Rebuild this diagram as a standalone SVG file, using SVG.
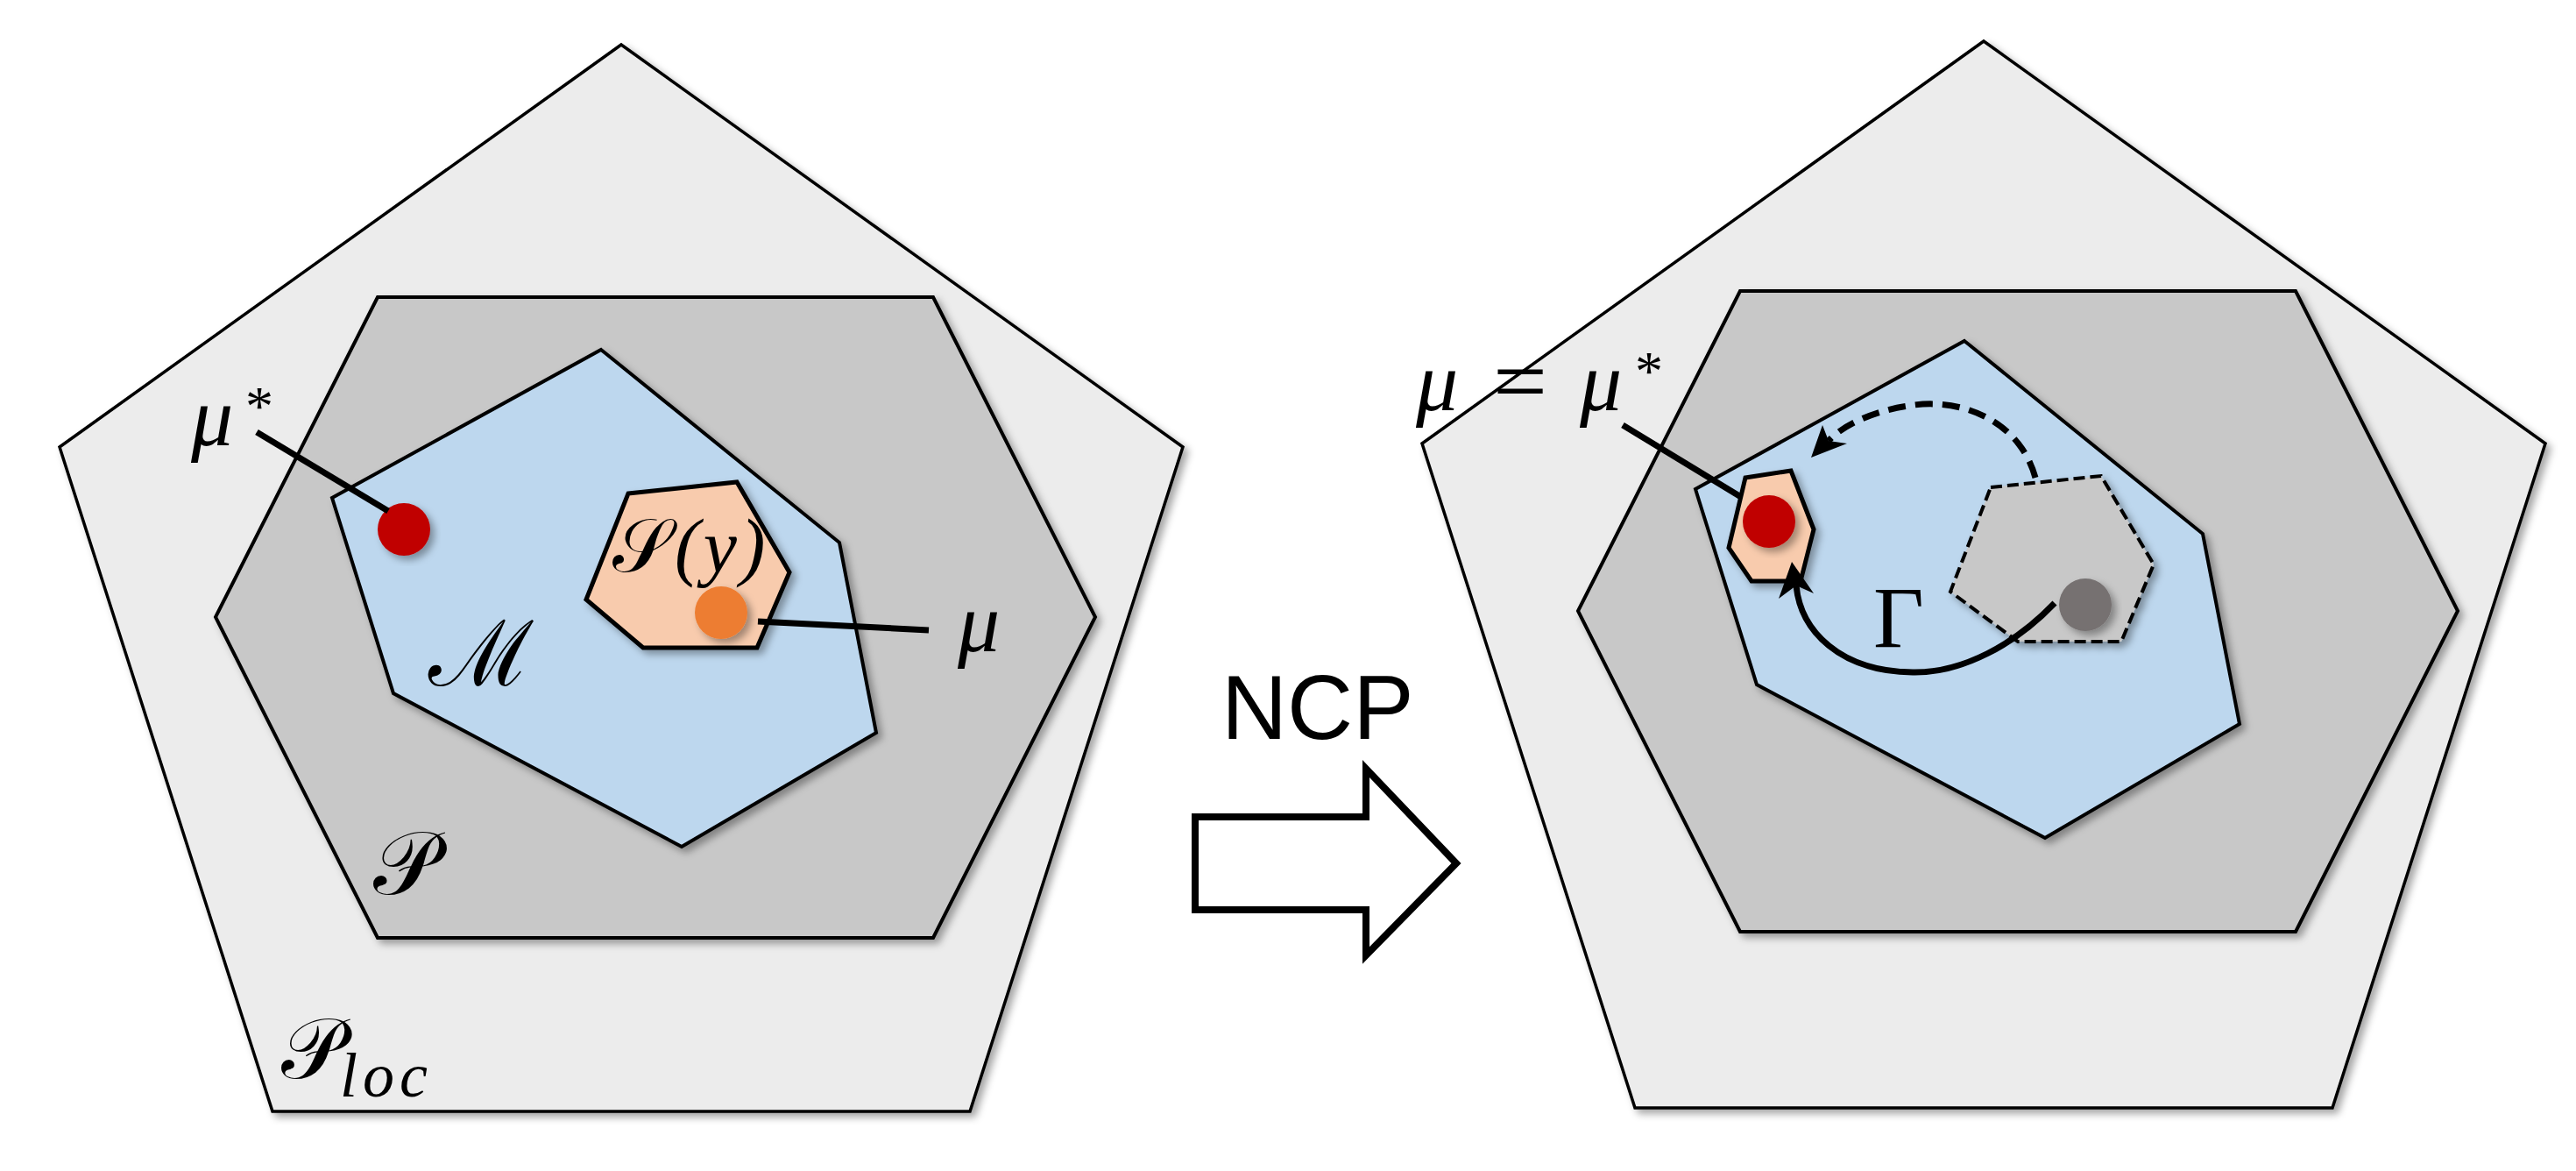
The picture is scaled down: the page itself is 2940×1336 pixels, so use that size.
<svg xmlns="http://www.w3.org/2000/svg" width="2940" height="1336" viewBox="0 0 2940 1336">
<style>
.pent{fill:#ececec;stroke:#000;stroke-width:3.5;stroke-linejoin:miter}
.hexP{fill:#c8c8c8;stroke:#000;stroke-width:4}
.blue{fill:#bdd7ee;stroke:#000;stroke-width:4}
.sal{fill:#f8cbad;stroke:#000;stroke-width:5}
.dash{fill:#c8c8c8;stroke:#000;stroke-width:4;stroke-dasharray:13 6}
.conn{stroke:#000;stroke-width:7;fill:none}
.math{font-family:"Liberation Serif","DejaVu Serif",serif;font-style:italic;fill:#000}
.scr{font-family:"DejaVu Serif","Liberation Serif","Noto Sans CJK SC",serif;fill:#000}
.up{font-family:"Liberation Serif","DejaVu Serif",serif;fill:#000}
.sans{font-family:"Liberation Sans",Arial,sans-serif;fill:#000}
</style>
<defs>
<filter id="sh" x="-20%" y="-20%" width="140%" height="140%">
<feDropShadow dx="5" dy="5" stdDeviation="4" flood-color="#000" flood-opacity="0.35"/>
</filter>
</defs>
<rect width="2940" height="1336" fill="#fff"/>

<!-- Left panel -->
<g id="left-Ploc"><polygon class="pent" filter="url(#sh)" points="709,51 1350,510 1107,1268 311,1268 68,510"/></g>
<g id="left-P"><polygon class="hexP" filter="url(#sh)" points="431,339 1065,339 1250,704 1065,1070 431,1070 246,704"/></g>
<g id="left-M"><polygon class="blue" filter="url(#sh)" points="686,399 958,619 1000,836 778,966 449,791 379,568"/></g>
<g id="left-S"><polygon class="sal" filter="url(#sh)" points="717,563 841,550 901,653 864,739 734,739 669,684"/>
<text class="math" x="699" y="652" font-size="86" letter-spacing="4"><tspan class="scr" font-style="normal">𝒮</tspan>(y)</text></g>
<g id="left-mustar-dot"><circle cx="461" cy="604" r="30" fill="#c00000" filter="url(#sh)"/></g>
<g id="left-mu-dot"><circle cx="823" cy="699" r="30" fill="#ed7d31" filter="url(#sh)"/></g>
<g id="left-labels">
<text class="math" x="218" y="508" font-size="96">μ</text>
<text class="up" x="280" y="485" font-size="64">*</text>
<text class="math" x="1093" y="743" font-size="96">μ</text>
<text class="scr" x="489" y="782" font-size="104">ℳ</text>
<text class="scr" x="426" y="1020" font-size="102">𝒫</text>
<text class="scr" x="321" y="1230" font-size="98">𝒫</text>
<text class="math" x="388" y="1251" font-size="72" letter-spacing="6">loc</text>
</g>

<!-- Middle arrow -->
<g id="ncp">
<text class="sans" x="1394" y="843" font-size="104">NCP</text>
<polygon points="1364,932 1559,932 1559,877 1662,985 1559,1090 1559,1038 1364,1038" fill="#fff" stroke="#000" stroke-width="8"/>
</g>

<!-- Right panel -->
<g id="right-Ploc"><polygon class="pent" filter="url(#sh)" transform="translate(1555,-4)" points="709,51 1350,510 1107,1268 311,1268 68,510"/></g>
<g id="right-P"><polygon class="hexP" filter="url(#sh)" transform="translate(1555,-7)" points="431,339 1065,339 1250,704 1065,1070 431,1070 246,704"/></g>
<g id="right-M"><polygon class="blue" filter="url(#sh)" transform="translate(1556,-10)" points="686,399 958,619 1000,836 778,966 449,791 379,568"/></g>
<g id="right-S-old"><polygon class="dash" filter="url(#sh)" points="2272,556 2398,543 2458,644 2421,732 2303,732 2226,675"/></g>
<g id="right-old-dot"><circle cx="2380" cy="690" r="30" fill="#767171" filter="url(#sh)"/></g>
<g id="right-S"><polygon class="sal" filter="url(#sh)" points="1992,545 2044,537 2070,604 2055,663 1999,663 1973,625"/></g>
<g id="right-dot"><circle cx="2019" cy="595" r="30" fill="#c00000" filter="url(#sh)"/></g>
<g id="right-labels">
<text class="math" x="1616" y="468" font-size="96">μ</text>
<text class="up" x="1704" y="472" font-size="110">=</text>
<text class="math" x="1803" y="468" font-size="96">μ</text>
<text class="up" x="1866" y="445" font-size="64">*</text>
<text class="up" x="2138" y="738" font-size="100">Γ</text>
</g>

<!-- Connectors -->
<g id="connectors">
<line class="conn" x1="293" y1="493" x2="443" y2="583"/>
<line class="conn" x1="865" y1="709" x2="1060" y2="719"/>
<line class="conn" x1="1852" y1="485" x2="1987" y2="567"/>
<path class="conn" d="M2345,688 C2300,735 2240,768 2183,767 C2100,766 2055,720 2050,668"/>
<polygon points="2045,641 2070,677 2050,668 2030,683" fill="#000"/>
<path class="conn" stroke-dasharray="20 11" d="M2323,545 C2305,480 2240,455 2185,462 C2135,468 2100,488 2087,503"/>
<polygon points="2067,522 2080,485 2087,503 2108,506" fill="#000"/>
</g>
</svg>
